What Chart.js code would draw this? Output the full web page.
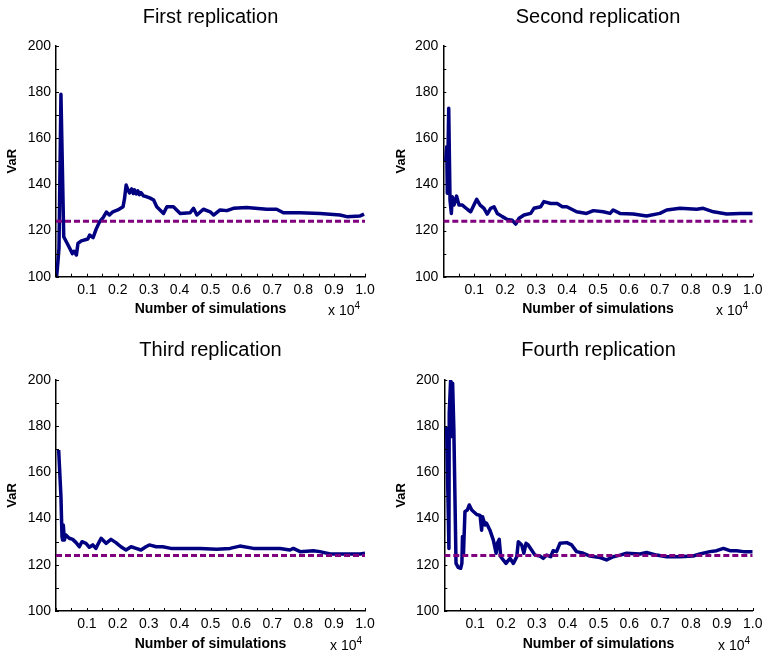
<!DOCTYPE html>
<html>
<head>
<meta charset="utf-8">
<script src="https://cdn.jsdelivr.net/npm/chart.js@4/dist/chart.umd.min.js"></script>
<style>
  html, body { margin: 0; padding: 0; background: #fff; }
  body { width: 762px; height: 652px; position: relative; overflow: hidden; font-family: "Liberation Sans", Arial, sans-serif; }
  canvas { position: absolute; }
  .mult { position: absolute; font-size: 14px; color: #000; white-space: nowrap; line-height: 1; }
  .mult sup { font-size: 10px; vertical-align: 6px; line-height: 1; }
</style>
</head>
<body>
<canvas id="c1" width="381" height="326" style="left:0;top:0"></canvas>
<canvas id="c2" width="381" height="326" style="left:381px;top:0"></canvas>
<canvas id="c3" width="381" height="326" style="left:0;top:326px"></canvas>
<canvas id="c4" width="381" height="326" style="left:381px;top:326px"></canvas>
<div class="mult" style="left:328px;top:301px">x 10<sup>4</sup></div>
<div class="mult" style="left:716px;top:301px">x 10<sup>4</sup></div>
<div class="mult" style="left:330px;top:636px">x 10<sup>4</sup></div>
<div class="mult" style="left:718px;top:636px">x 10<sup>4</sup></div>
<script>
// ---- data (x in units of 10^4 simulations, y = VaR) ----
const titles = ["First replication", "Second replication", "Third replication", "Fourth replication"];
const xAxisLabel = "Number of simulations";
const yAxisLabel = "VaR";
const trueVaR = 124;
const xTickLabels = ["0.1","0.2","0.3","0.4","0.5","0.6","0.7","0.8","0.9","1.0"];
const yTickLabels = ["100","120","140","160","180","200"];

const rep1X = [0.002,0.006,0.0097,0.016,0.025,0.044,0.053,0.058,0.066,0.071,0.082,0.103,0.109,0.12,0.13,0.141,0.152,0.163,0.173,0.184,0.2,0.217,0.222,0.227,0.233,0.238,0.245,0.25,0.254,0.26,0.265,0.27,0.275,0.283,0.294,0.305,0.316,0.326,0.348,0.359,0.38,0.402,0.434,0.445,0.456,0.477,0.499,0.51,0.531,0.553,0.574,0.617,0.682,0.714,0.736,0.79,0.855,0.919,0.941,0.984,0.997];
const rep1Y = [100,106,112.4,179,117.3,112.4,110,111,109.4,114.4,115.5,116.3,118,116.9,120.6,123.8,125.5,128,126.7,128.1,128.9,130.3,134,139.7,137.5,136.3,138,136,137.6,135.8,137.2,135.5,136.4,135,134.6,134,133.2,130.3,127.4,130.3,130.3,127.4,127.7,129.6,126.7,129.2,128.1,126.7,128.9,128.6,129.6,130,129.2,129.2,127.7,127.7,127.4,126.7,126,126.3,127.1];

const rep2X = [0.008,0.011,0.013,0.0175,0.0217,0.026,0.029,0.0346,0.043,0.0507,0.0614,0.0776,0.0885,0.099,0.108,0.119,0.1315,0.142,0.153,0.164,0.1745,0.191,0.207,0.223,0.234,0.245,0.261,0.2825,0.293,0.315,0.325,0.347,0.368,0.385,0.399,0.431,0.463,0.485,0.517,0.539,0.549,0.571,0.614,0.657,0.7,0.722,0.765,0.819,0.84,0.873,0.916,0.959,1.0];
const rep2Y = [150,156.3,136.1,172.9,133.2,127.4,134.6,131,134.9,131,131,129.2,128.1,131,133.5,131,129.6,127.1,129.6,130.3,127.4,126,124.8,124.4,122.8,125.3,126.7,127.4,129.6,130.3,132.5,131.7,131.7,130.3,130.3,128.1,127.4,128.6,128.1,127.4,128.9,127.4,127.1,126.3,127.4,128.9,129.6,129.2,129.6,128.1,127.1,127.4,127.4];

const rep3X = [0.0086,0.016,0.0194,0.0216,0.0237,0.027,0.032,0.043,0.054,0.065,0.0755,0.084,0.097,0.108,0.119,0.129,0.146,0.162,0.178,0.194,0.21,0.2265,0.243,0.259,0.275,0.291,0.302,0.324,0.345,0.372,0.388,0.423,0.466,0.52,0.563,0.595,0.639,0.682,0.725,0.757,0.768,0.79,0.833,0.854,0.887,0.941,0.984,1.0];
const rep3Y = [169.7,149.5,132.2,130.7,137.2,130.7,132.9,131.5,131,129.6,127.8,130,129.3,127.6,128.6,127.1,131.5,129.3,131,129.6,127.8,126.4,127.8,127.1,126.4,127.8,128.6,127.8,127.8,127.1,127.1,127.1,127.1,126.7,127.1,128.1,127.1,127.1,127.1,126.4,127.1,125.7,126.1,125.7,124.7,124.7,124.7,125];

const rep4X = [0.0076,0.011,0.015,0.016,0.0205,0.024,0.027,0.031,0.038,0.045,0.053,0.057,0.059,0.062,0.067,0.0746,0.081,0.089,0.105,0.116,0.121,0.124,0.132,0.137,0.148,0.159,0.168,0.172,0.178,0.183,0.191,0.2,0.213,0.224,0.235,0.24,0.251,0.258,0.265,0.272,0.283,0.294,0.31,0.321,0.332,0.345,0.353,0.364,0.375,0.397,0.413,0.429,0.451,0.472,0.505,0.526,0.548,0.57,0.591,0.634,0.656,0.688,0.721,0.764,0.807,0.829,0.861,0.883,0.905,0.926,0.948,0.97,1.0];
const rep4Y = [179.8,155.3,127.1,185.6,200,175.5,198.6,178.4,120.6,118.9,118.5,120.6,132.2,124,143,143.7,145.9,143.7,141.8,141.4,135,140.8,137.2,138,135,130.7,125,129.3,131,123.5,122.1,120.6,122.8,120.6,123.5,130,128.6,125,129.3,128.6,126.4,124.2,123.8,122.8,124.2,123.5,126.1,125.7,129.3,129.6,128.6,125.7,125,123.8,123.1,122.1,123.5,124.2,125,124.7,125.3,124.2,123.5,123.5,123.8,124.7,125.7,126.1,127.1,126.1,126.1,125.7,125.7];

const seriesX = [rep1X, rep2X, rep3X, rep4X];
const seriesY = [rep1Y, rep2Y, rep3Y, rep4Y];

// ---- layout per panel (sizes/offsets only) ----
const panels = [
  { id: "c1", yW: 56,   padR: 16,  tTop: 7,  tBot: 18.7, xH: 49.3, xTitleB: 9.5, yTitleT: 6 },
  { id: "c2", yW: 62.3, padR: 9.3, tTop: 7,  tBot: 18.7, xH: 49.3, xTitleB: 9.5, yTitleT: 14 },
  { id: "c3", yW: 56,   padR: 16,  tTop: 14, tBot: 20,   xH: 41,   xTitleB: 0.5, yTitleT: 6 },
  { id: "c4", yW: 63.3, padR: 9.3, tTop: 14, tBot: 20,   xH: 41,   xTitleB: 0.5, yTitleT: 13.5 }
];

const FONT = "'Liberation Sans', Arial, Helvetica, sans-serif";

const innerTicks = {
  id: "innerTicks",
  afterDraw(chart) {
    const { ctx, scales: { x, y } } = chart;
    ctx.save();
    ctx.strokeStyle = "#000";
    ctx.lineWidth = 1;
    ctx.beginPath();
    for (let i = 0; i <= 20; i++) {
      const px = Math.round(x.getPixelForValue(i * 0.05)) + 0.5;
      ctx.moveTo(px, y.bottom);
      ctx.lineTo(px, y.bottom - 3);
    }
    for (let i = 0; i <= 10; i++) {
      const py = Math.round(y.getPixelForValue(100 + i * 10)) + 0.5;
      ctx.moveTo(x.left, py);
      ctx.lineTo(x.left + 3, py);
    }
    ctx.stroke();
    ctx.restore();
  }
};

panels.forEach((p, k) => {
  const pts = seriesX[k].map((v, i) => ({ x: v, y: seriesY[k][i] }));
  new Chart(document.getElementById(p.id), {
    type: "line",
    data: {
      datasets: [
        {
          data: [{ x: 0, y: trueVaR }, { x: 1, y: trueVaR }],
          borderColor: "#800080",
          borderWidth: 3,
          borderDash: [6, 3],
          pointRadius: 0,
          fill: false
        },
        {
          data: pts,
          borderColor: "#000080",
          borderWidth: 3.5,
          pointRadius: 0,
          tension: 0,
          borderJoinStyle: "round",
          fill: false
        }
      ]
    },
    options: {
      responsive: false,
      animation: false,
      devicePixelRatio: 1,
      layout: { padding: { left: 0, right: p.padR, top: 0, bottom: 0 } },
      plugins: {
        legend: { display: false },
        tooltip: { enabled: false },
        title: {
          display: true,
          fullSize: false,
          text: titles[k],
          color: "#000",
          font: { family: FONT, size: 20, weight: "normal", lineHeight: 1 },
          padding: { top: p.tTop, bottom: p.tBot }
        }
      },
      scales: {
        x: {
          type: "linear",
          min: 0,
          max: 1,
          grid: { display: false, drawTicks: false },
          border: { display: true, color: "#000", width: 1.5 },
          afterBuildTicks(s) {
            s.ticks = xTickLabels.map(t => ({ value: parseFloat(t) }));
          },
          ticks: {
            autoSkip: false,
            maxRotation: 0,
            color: "#000",
            padding: 5,
            font: { family: FONT, size: 14 },
            callback: (v, i) => xTickLabels[i]
          },
          title: {
            display: true,
            text: xAxisLabel,
            color: "#000",
            font: { family: FONT, size: 14, weight: "bold", lineHeight: 1 },
            padding: { top: 0, bottom: p.xTitleB }
          },
          afterFit(s) {
            s.height = p.xH;
            s.paddingLeft = 0;
            s.paddingRight = 0;
          }
        },
        y: {
          type: "linear",
          min: 100,
          max: 200,
          grid: { display: false, drawTicks: false },
          border: { display: true, color: "#000", width: 1.5 },
          afterBuildTicks(s) {
            s.ticks = yTickLabels.map(t => ({ value: parseFloat(t) }));
          },
          ticks: {
            autoSkip: false,
            color: "#000",
            padding: 5,
            font: { family: FONT, size: 14 },
            callback: (v, i) => yTickLabels[i]
          },
          title: {
            display: true,
            text: yAxisLabel,
            color: "#000",
            font: { family: FONT, size: 13, weight: "bold", lineHeight: 1 },
            padding: { top: p.yTitleT, bottom: 0 }
          },
          afterFit(s) {
            s.width = p.yW;
            s.paddingTop = 0;
            s.paddingBottom = 0;
          }
        }
      }
    },
    plugins: [innerTicks]
  });
});
</script>
</body>
</html>
